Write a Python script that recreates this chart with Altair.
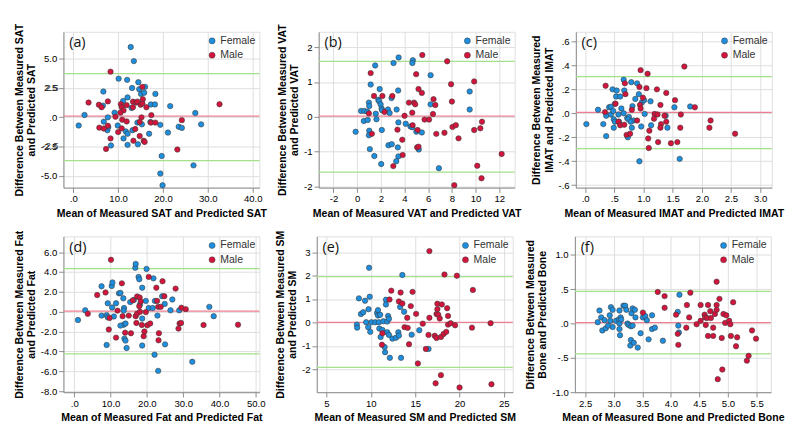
import altair as alt
import pandas as pd

SEXES = ["Female", "Male"]
SEX_COLORS = ["#1e8fde", "#d3143c"]

# ---------- (a) SAT ----------
A_FEMALE = [(12.8,6.0),(13.5,4.8),(10.1,3.3),(12.0,3.2),(14.5,3.0),(16.0,2.6),(13.1,2.5),(14.7,2.4),(6.7,2.2),(15.1,2.0),(15.8,2.1),(18.3,2.0),(12.1,1.7),(11.1,1.4),(17.3,1.1),(18.2,1.1),(21.6,0.96),(6.6,1.0),(2.5,0.2),(9.2,0.4),(7.7,0.0),(13.0,0.8),(27.2,0.37),(1.2,-0.7),(6.8,-0.37),(9.9,-0.7),(19.4,-0.64),(23.5,-0.8),(24.2,-0.9),(28.5,-0.6),(7.6,-1.1),(11.7,-1.2),(12.1,-1.4),(11.2,-1.8),(13.2,-1.1),(16.9,-1.4),(21.1,-1.3),(14.4,-2.3),(12.1,-2.35),(8.4,-2.4),(19.7,-3.3),(26.8,-4.1),(19.4,-4.8),(19.9,-5.8),(14.3,-0.45),(15.3,-0.6),(17.2,-0.4),(7.8,-0.83)]
A_MALE = [(8.3,3.9),(15.4,2.6),(3.4,1.26),(5.7,1.07),(7.7,1.36),(6.3,0.86),(10.6,1.12),(10.8,0.86),(11.2,0.59),(11.9,1.04),(13.3,1.34),(14.0,1.26),(14.3,1.34),(15.0,1.07),(15.4,1.2),(15.5,1.55),(16.3,0.86),(13.3,0.86),(32.6,1.12),(17.4,0.19),(9.4,0.05),(10.5,0.4),(10.9,-0.2),(15.2,0.0),(14.8,-0.4),(17.3,-0.45),(18.3,-0.45),(24.2,-0.24),(5.8,-0.88),(6.8,-0.96),(7.7,-0.72),(10.0,-1.26),(10.8,-0.94),(11.9,-0.35),(13.8,-1.0),(14.8,-1.6),(13.4,-2.0),(15.7,-2.0),(15.9,-2.1),(8.3,-1.8),(7.3,-2.7),(23.2,-2.75)]
A_LINES = [0.10, 3.74, -3.69]

# ---------- (b) VAT ----------
B_FEMALE = [(3.5,1.71),(3.07,1.55),(4.7,1.63),(4.66,1.55),(1.52,1.48),(6.2,1.2),(1.14,0.93),(1.9,0.8),(3.46,0.76),(9.5,0.73),(1.78,0.49),(1.85,0.45),(0.99,0.41),(2.9,0.54),(1.98,0.36),(1.02,0.31),(2.06,0.24),(2.6,0.21),(3.33,0.21),(2.74,0.11),(2.1,0.19),(0.33,0.17),(0.61,0.17),(0.86,0.15),(9.5,0.21),(6.2,0.36),(1.57,0.09),(1.63,-0.07),(0.56,-0.12),(0.89,-0.09),(-0.13,-0.43),(1.02,-0.4),(0.99,-0.53),(2.08,-0.38),(3.48,-0.16),(4.1,-0.2),(4.5,-0.28),(4.65,-0.3),(5.0,-0.43),(5.46,-0.45),(1.07,-0.93),(1.45,-1.13),(2.03,-1.36),(2.64,-0.82),(2.92,-0.79),(3.43,-0.88),(3.48,-1.14),(3.3,-1.28),(5.2,-0.94),(6.9,-1.48)]
B_MALE = [(5.5,1.78),(7.6,1.6),(1.14,1.26),(4.98,1.23),(5.46,0.69),(5.18,0.8),(9.88,1.02),(7.93,0.94),(1.42,0.6),(2.13,0.6),(2.97,0.6),(4.37,0.41),(4.8,0.41),(4.9,0.36),(6.45,0.51),(6.6,0.34),(8.0,0.44),(2.31,0.14),(4.65,0.12),(6.4,0.08),(4.0,0.03),(5.69,-0.08),(6.07,-0.08),(0.99,0.1),(1.24,-0.49),(4.68,-0.24),(5.1,-0.38),(3.4,-0.37),(6.68,-0.49),(7.37,-0.46),(8.05,-0.29),(8.33,-0.24),(8.56,-0.62),(9.88,-0.38),(10.4,-0.33),(10.54,-0.14),(3.81,-0.66),(5.06,-0.88),(5.18,-0.86),(3.84,-1.1),(3.05,-1.42),(10.14,-1.41),(12.2,-1.07),(10.5,-1.77),(8.2,-1.97)]
B_LINES = [0.02, 1.60, -1.59]

# ---------- (c) IMAT ----------
C_FEMALE = [(0.02,-0.09),(0.22,0.03),(0.31,-0.09),(0.36,-0.02),(0.36,-0.19),(0.41,0.05),(0.44,0.055),(0.47,0.2),(0.54,0.19),(0.44,-0.01),(0.48,0.02),(0.51,0.08),(0.53,0.14),(0.6,0.14),(0.49,-0.05),(0.51,-0.07),(0.49,-0.12),(0.57,-0.01),(0.58,-0.07),(0.62,0.04),(0.66,0.0),(0.66,0.28),(0.67,0.19),(0.72,-0.04),(0.75,-0.03),(0.74,-0.05),(0.73,-0.2),(0.8,-0.12),(0.81,0.06),(0.79,0.26),(0.89,0.25),(0.92,0.16),(0.86,0.12),(0.97,0.09),(0.96,-0.11),(1.01,0.11),(1.02,-0.005),(1.13,-0.1),(1.12,0.1),(0.93,-0.4),(1.41,-0.12),(1.38,-0.02),(1.53,0.05),(1.8,0.057),(1.62,-0.38),(0.83,-0.06),(0.78,-0.07)]
C_MALE = [(0.35,0.23),(0.34,0.01),(0.52,0.08),(0.57,-0.07),(0.6,-0.1),(0.67,-0.095),(0.68,0.25),(0.69,0.16),(0.71,-0.18),(0.77,-0.17),(0.8,0.03),(0.89,-0.06),(0.93,0.22),(0.95,0.36),(0.94,0.07),(0.95,0.04),(0.99,0.13),(1.05,0.21),(1.07,0.33),(1.08,-0.21),(1.1,-0.145),(1.09,-0.29),(1.19,-0.005),(1.18,-0.045),(1.23,0.2),(1.25,-0.24),(1.29,0.07),(1.3,-0.09),(1.29,-0.12),(1.24,-0.01),(1.36,-0.02),(1.39,0.17),(1.39,-0.07),(1.47,-0.25),(1.54,0.11),(1.58,-0.24),(1.64,-0.01),(1.63,-0.12),(1.7,0.39),(1.88,0.05),(2.13,-0.12),(2.15,-0.06),(2.57,-0.17)]
C_LINES = [0.007, 0.306, -0.294]

# ---------- (d) Fat ----------
D_FEMALE = [(1.0,-0.83),(3.0,0.15),(7.5,-0.38),(7.5,2.57),(8.9,-0.33),(9.2,-0.56),(9.2,0.86),(8.9,-3.34),(10.3,2.6),(10.5,2.96),(10.4,0.44),(10.9,-0.47),(11.5,0.86),(12.3,1.86),(12.7,1.9),(13.5,1.36),(13.7,0.38),(13.6,0.12),(13.6,-1.3),(14.1,-1.18),(12.7,-1.39),(13.8,-2.7),(14.1,-2.9),(14.4,-3.64),(15.4,0.98),(16.4,1.2),(16.8,4.44),(16.9,4.82),(17.7,3.52),(17.9,3.28),(18.1,0.74),(18.7,2.43),(18.7,-0.68),(18.7,-3.4),(19.7,1.1),(19.9,4.32),(20.5,0.38),(21.6,0.38),(21.8,3.37),(22.2,1.1),(22.1,-4.32),(22.9,-0.38),(23.1,-5.95),(24.2,1.57),(24.9,0.8),(25.0,-3.28),(26.5,0.15),(27.0,1.24),(28.9,0.15),(32.5,-5.03),(37.2,0.5),(38.4,-0.44)]
D_MALE = [(3.7,-0.2),(6.3,1.69),(8.6,1.95),(9.7,-0.62),(10.1,5.24),(9.5,-1.78),(11.5,-2.6),(11.9,0.12),(13.1,2.87),(13.3,-0.44),(14.0,-2.1),(15.0,-0.38),(15.6,-2.16),(16.1,1.15),(16.9,-0.44),(17.1,-1.12),(17.3,1.54),(17.3,-0.18),(18.0,1.45),(17.9,0.56),(18.1,0.0),(18.3,1.04),(18.6,-1.33),(19.1,-2.46),(19.3,-1.98),(19.7,-0.03),(20.1,-1.36),(20.5,3.52),(20.9,-1.18),(22.6,2.43),(22.8,1.1),(23.1,0.5),(23.2,-2.87),(23.3,-2.16),(23.8,0.5),(24.3,3.08),(24.8,1.57),(27.9,2.34),(28.7,-1.69),(29.0,-1.18),(29.4,-1.12),(29.5,0.41),(30.7,0.27),(35.6,-1.33),(45.1,-1.3)]
D_LINES = [0.06, 4.35, -4.23]

# ---------- (e) SM ----------
E_FEMALE = [(8.42,-0.09),(8.45,-0.22),(8.65,1.03),(8.88,0.36),(9.14,0.44),(9.34,0.93),(9.47,0.01),(9.74,0.57),(9.87,1.1),(9.7,-0.2),(9.8,2.34),(9.93,-0.4),(10.07,0.01),(10.5,0.01),(10.7,0.41),(10.8,0.3),(10.8,0.53),(10.95,-0.26),(11.05,0.33),(10.9,0.01),(11.1,-0.62),(11.3,-0.32),(11.4,0.05),(11.6,-1.27),(11.55,-1.05),(11.7,0.97),(11.7,0.77),(11.84,0.04),(11.94,0.28),(12.04,0.16),(11.84,-0.42),(12.04,-0.53),(12.14,-1.51),(12.43,-0.69),(12.83,-0.65),(13.1,-0.42),(13.16,-0.56),(13.3,0.66),(13.4,-1.51),(13.55,2.03),(13.75,0.46),(14.6,-0.52),(15.46,-0.33),(16.5,-1.13)]
E_MALE = [(16.6,3.05),(18.3,2.05),(19.7,2.0),(21.5,1.39),(12.3,1.36),(13.35,1.28),(14.7,1.31),(12.1,0.98),(13.16,0.9),(13.55,0.81),(14.5,0.7),(14.1,0.2),(15.1,0.37),(13.8,-0.2),(14.15,-0.23),(15.85,-0.05),(16.6,0.2),(16.5,-0.53),(17.5,0.8),(18.0,0.77),(17.5,0.57),(17.4,0.36),(17.6,0.33),(17.76,0.17),(18.6,0.61),(18.7,0.28),(18.7,-0.09),(19.0,-0.03),(19.5,-0.12),(17.2,-0.57),(17.4,-0.66),(17.9,-0.62),(18.2,-0.49),(18.5,-0.4),(21.4,-0.22),(23.5,-0.03),(11.3,-0.46),(11.25,-0.95),(14.3,-0.93),(16.2,-1.13),(15.3,-1.75),(17.9,-2.25),(17.3,-2.6),(20.0,-2.78),(23.6,-2.64)]
E_LINES = [0.0, 1.96, -1.92]

# ---------- (f) Bone ----------
F_FEMALE = [(2.72,0.02),(2.75,0.19),(2.78,0.09),(2.8,-0.1),(2.84,0.05),(2.86,-0.07),(2.9,-0.03),(2.93,0.12),(2.94,0.04),(2.95,0.24),(2.98,0.2),(2.98,-0.05),(3.04,0.04),(3.09,0.06),(3.1,0.19),(3.1,0.0),(3.1,-0.08),(3.11,-0.17),(3.12,0.09),(3.13,0.06),(3.17,0.26),(3.2,0.26),(3.22,0.2),(3.24,0.0),(3.26,-0.02),(3.3,-0.04),(3.33,-0.03),(3.3,-0.24),(3.29,-0.32),(3.31,0.15),(3.33,0.22),(3.35,-0.28),(3.37,0.2),(3.38,0.09),(3.42,-0.35),(3.47,-0.14),(3.51,0.09),(3.55,0.11),(3.58,0.05),(3.61,-0.23),(3.67,0.12),(3.67,-0.08),(3.72,-0.06),(3.86,-0.25),(4.12,0.17),(4.15,0.42),(4.13,-0.03),(4.14,-0.13)]
F_MALE = [(3.51,0.16),(3.77,0.46),(3.89,0.4),(3.89,0.23),(4.09,0.13),(4.12,-0.15),(4.13,-0.31),(4.28,0.27),(4.27,-0.06),(4.32,0.09),(4.34,0.45),(4.45,-0.01),(4.52,0.27),(4.52,0.04),(4.59,0.13),(4.6,0.09),(4.61,-0.02),(4.63,0.08),(4.65,0.27),(4.65,-0.18),(4.69,0.18),(4.7,0.08),(4.74,-0.06),(4.74,-0.18),(4.77,0.14),(4.8,0.2),(4.8,0.27),(4.8,0.61),(4.82,-0.81),(4.85,0.36),(4.89,-0.21),(4.9,-0.67),(4.92,0.14),(4.95,0.01),(4.97,0.12),(5.02,0.04),(5.04,-0.01),(5.05,-0.18),(5.09,0.31),(5.14,-0.33),(5.16,-0.2),(5.42,-0.1),(5.33,-0.54),(5.36,-0.47),(5.49,-0.22)]
F_LINES = [0.014, 0.47, -0.44]

# extra y tick labels drawn as text (values the axis drops in panel (a))
A_EXTRA_YLABELS = [-2.5, 2.5]

FONT = "Liberation Sans"


def expr(decimals):
    sign = "(datum.value < 0 ? '-' : '')"
    if decimals == 0:
        return sign + " + format(abs(datum.value), 'd')"
    return (sign + " + (abs(datum.value) < 0.999 ? (abs(datum.value) < 0.001 ? '.0' : '.' + "
            "format(abs(datum.value) * 10, '.0f')) : format(abs(datum.value), '.1f'))")


PANELS = [
    dict(tag="(a)", female=A_FEMALE, male=A_MALE, lines=A_LINES, extra=A_EXTRA_YLABELS,
         xdom=[-2.2, 41.5], ydom=[-6.0, 7.3], xt=[0, 10, 20, 30, 40], yt=[-5, -2.5, 0, 2.5, 5], xd=1, yd=1,
         ytitle=["Difference Between Measured SAT", "and Predicted SAT"],
         xtitle="Mean of Measured SAT and Predicted SAT"),
    dict(tag="(b)", female=B_FEMALE, male=B_MALE, lines=B_LINES, extra=[],
         xdom=[-3.25, 13.3], ydom=[-2.04, 2.45], xt=[-2, 0, 2, 4, 6, 8, 10, 12], yt=[-2, -1, 0, 1, 2], xd=0, yd=0,
         ytitle=["Difference Between Measured VAT", "and Predicted VAT"],
         xtitle="Mean of Measured VAT and Predicted VAT"),
    dict(tag="(c)", female=C_FEMALE, male=C_MALE, lines=C_LINES, extra=[],
         xdom=[-0.16, 3.2], ydom=[-0.62, 0.68], xt=[0, 0.5, 1, 1.5, 2, 2.5, 3], yt=[-0.6, -0.4, -0.2, 0, 0.2, 0.4, 0.6], xd=1, yd=1,
         ytitle=["Difference Between Measured", "IMAT and Predicted IMAT"],
         xtitle="Mean of Measured IMAT and Predicted IMAT"),
    dict(tag="(d)", female=D_FEMALE, male=D_MALE, lines=D_LINES, extra=[],
         xdom=[-3.0, 51.0], ydom=[-8.1, 7.6], xt=[0, 10, 20, 30, 40, 50], yt=[-8, -6, -4, -2, 0, 2, 4, 6], xd=1, yd=1,
         ytitle=["Difference Between Measured Fat", "and Predicted Fat"],
         xtitle="Mean of Measured Fat and Predicted Fat"),
    dict(tag="(e)", female=E_FEMALE, male=E_MALE, lines=E_LINES, extra=[],
         xdom=[3.9, 26.0], ydom=[-2.98, 3.68], xt=[5, 10, 15, 20, 25], yt=[-3, -2, -1, 0, 1, 2, 3], xd=0, yd=0,
         ytitle=["Difference Between Measured SM", "and Predicted SM"],
         xtitle="Mean of Measured SM and Predicted SM"),
    dict(tag="(f)", female=F_FEMALE, male=F_MALE, lines=F_LINES, extra=[],
         xdom=[2.32, 5.75], ydom=[-1.0, 1.27], xt=[2.5, 3, 3.5, 4, 4.5, 5, 5.5], yt=[-1, -0.5, 0, 0.5, 1], xd=1, yd=1,
         ytitle=["Difference Between Measured", "Bone and Predicted Bone"],
         xtitle="Mean of Measured Bone and Predicted Bone"),
]

W, H = 205, 163


def panel(p):
    rows = [dict(x=a, y=b, sex="Female") for a, b in p["female"]] + \
           [dict(x=a, y=b, sex="Male") for a, b in p["male"]]
    df = pd.DataFrame(rows)
    xs = alt.Scale(domain=p["xdom"], nice=False, zero=False)
    ys = alt.Scale(domain=p["ydom"], nice=False, zero=False)
    xaxis = alt.Axis(values=p["xt"], tickCount=30, labelExpr=expr(p["xd"]), title=p["xtitle"],
                     labelOverlap=False, labelFlush=False)
    yaxis = alt.Axis(values=p["yt"], tickCount=30, labelExpr=expr(p["yd"]), title=p["ytitle"],
                     labelOverlap=False, labelFlush=False, labelBound=False)
    xenc = alt.X("x:Q", scale=xs, axis=xaxis)
    yenc = alt.Y("y:Q", scale=ys, axis=yaxis)

    mean_df = pd.DataFrame({"y": [p["lines"][0]]})
    loa_df = pd.DataFrame({"y": p["lines"][1:]})
    mean_rule = alt.Chart(mean_df).mark_rule(color="#ee7f93", strokeWidth=1.3).encode(y=yenc)
    loa_rule = alt.Chart(loa_df).mark_rule(color="#a5e08c", strokeWidth=1.3).encode(y=yenc)
    pts = alt.Chart(df).mark_point(
        filled=True, size=32, stroke="#3a3a3a", strokeWidth=0.6, opacity=1).encode(
        x=xenc, y=yenc,
        fill=alt.Fill("sex:N", scale=alt.Scale(domain=SEXES, range=SEX_COLORS),
                      legend=alt.Legend(title=None, orient="top-right", labelFont=FONT, labelFontSize=11,
                                        labelColor="#333", symbolType="circle", symbolSize=40,
                                        symbolStrokeColor="#3a3a3a", symbolStrokeWidth=0.5,
                                        rowPadding=3, padding=2, offset=2, labelOffset=3)))
    tag = alt.Chart(pd.DataFrame({"t": [p["tag"]]})).mark_text(
        align="left", baseline="top", fontSize=15, font="Open Sans", color="#111").encode(
        x=alt.value(6), y=alt.value(4), text="t:N")
    layers = [loa_rule, mean_rule, pts, tag]
    if p["extra"]:
        ex = pd.DataFrame({"y": p["extra"], "lab": [f"{v:.1f}" for v in p["extra"]]})
        extra = alt.Chart(ex).mark_text(
            align="right", baseline="middle", fontSize=10, font=FONT, color="#333").encode(
            y=yenc, x=alt.value(-5), text="lab:N")
        layers.append(extra)
    return alt.layer(*layers).properties(width=W, height=H)


charts = [panel(p) for p in PANELS]
row1 = alt.hconcat(*charts[:3], spacing=8).resolve_scale(fill="independent").resolve_legend(fill="independent")
row2 = alt.hconcat(*charts[3:], spacing=8).resolve_scale(fill="independent").resolve_legend(fill="independent")
chart = alt.vconcat(row1, row2, spacing=10).resolve_scale(fill="independent").resolve_legend(fill="independent")

chart = chart.configure_view(strokeWidth=0).configure_axis(
    grid=False, domainColor="#9a9a9a", tickColor="#9a9a9a", tickSize=3,
    labelFont=FONT, labelFontSize=10, labelColor="#333",
    labelOverlap=False, labelFlush=False,
    titleFont=FONT, titleFontSize=11, titleFontWeight="bold", titleColor="#1a1a1a",
    titlePadding=4, labelPadding=2,
).configure(background="white")

chart.save("out.html", embed_options={"renderer": "svg", "actions": False})
